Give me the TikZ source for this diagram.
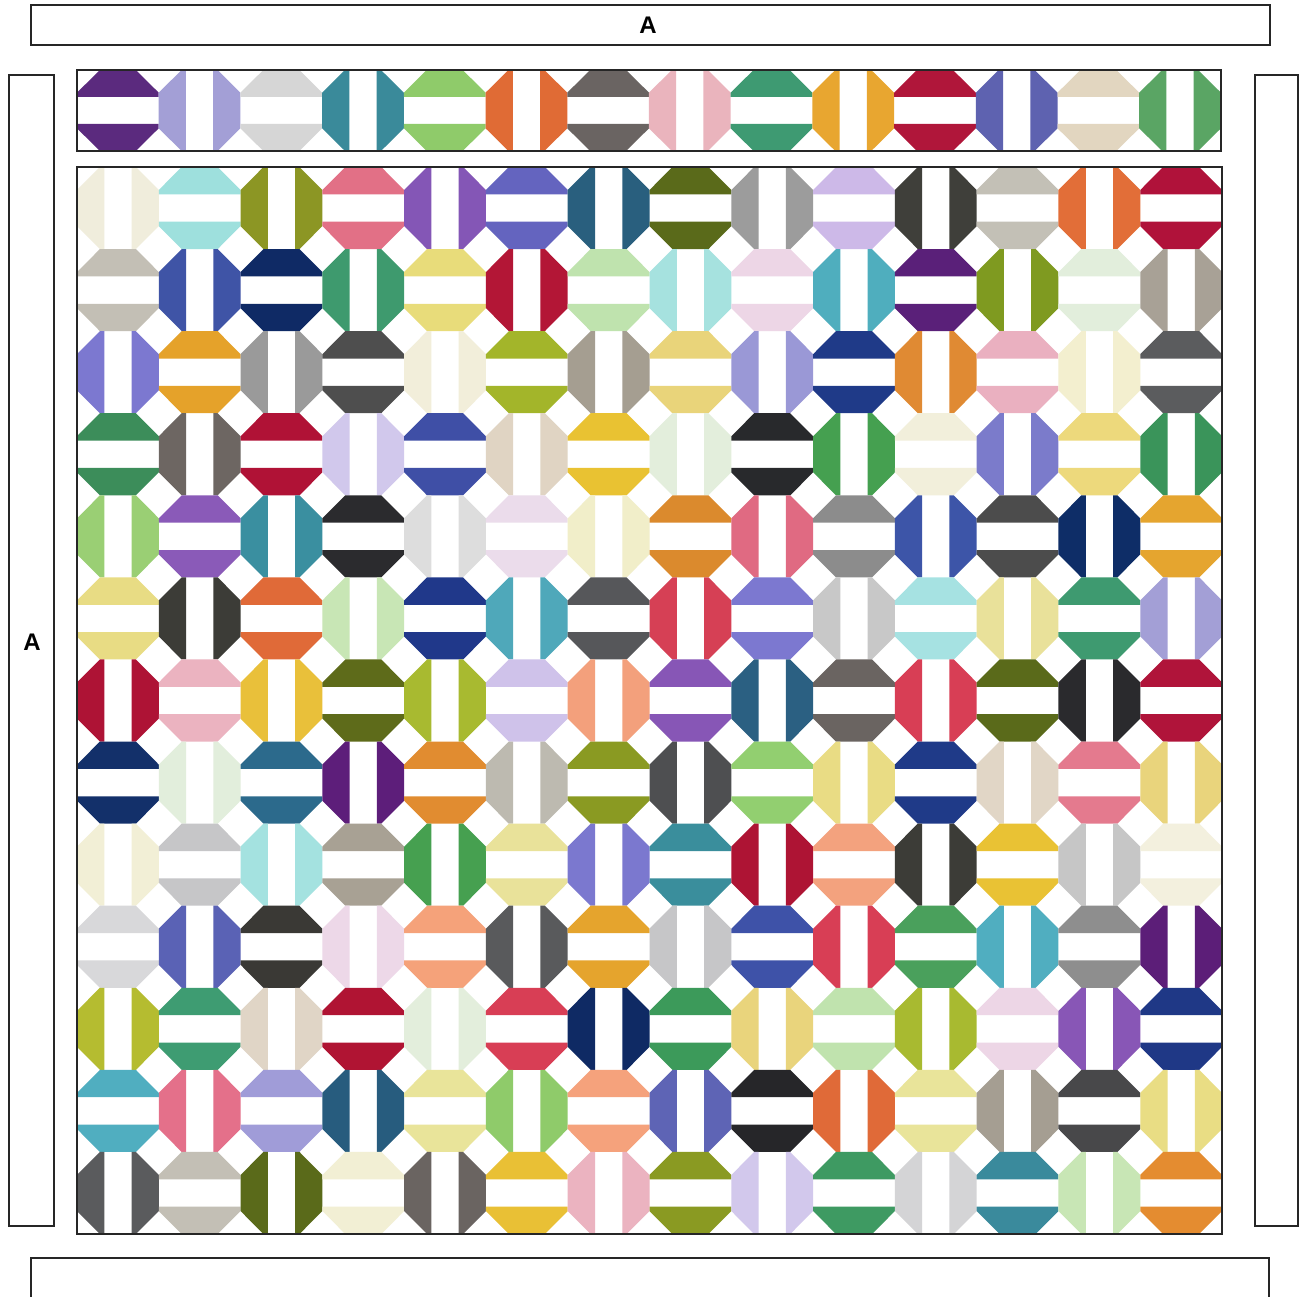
\documentclass[tikz,border=0pt]{standalone}
\usepackage{fontspec}
\setmainfont{Liberation Sans}
\newcommand\qhb{%
 \fill[bc] (0.28,0)--(0.72,0)--(1,0.28)--(1,1/3)--(0,1/3)--(0,0.28)--cycle;
 \fill[bc] (0,2/3)--(1,2/3)--(1,0.72)--(0.72,1)--(0.28,1)--(0,0.72)--cycle;}
\newcommand\qvb{%
 \fill[bc] (0,0.28)--(0.28,0)--(1/3,0)--(1/3,1)--(0.28,1)--(0,0.72)--cycle;
 \fill[bc] (2/3,0)--(0.72,0)--(1,0.28)--(1,0.72)--(0.72,1)--(2/3,1)--cycle;}
\begin{document}
\begin{tikzpicture}[x=1pt,y=-1pt,
  strip/.style={draw=black!85,line width=1.4pt},
  quiltedge/.style={draw=black!85,line width=1.1pt},
  lab/.style={font=\bfseries\fontsize{24}{26}\selectfont,inner sep=0pt}]
\useasboundingbox (0,0) rectangle (1299,1297);
\fill[white] (0,0) rectangle (1299,1297);

% top single row of blocks
\foreach \hx [count=\i] in {5B2A7E,A39FD6,D6D6D6,3A8A9A,8FCB6A,E06B35,6A6462,EAB4BD,3E9A72,E8A630,B0163A,5E62B0,E2D6C0,5AA564}{
  \edef\tmpdef{\noexpand\definecolor{bc}{HTML}{\hx}}\tmpdef
  \begin{scope}[shift={({77+(\i-1)*81.71},70)},xscale=81.71,yscale=81]
    \pgfmathtruncatemacro\o{mod(\i,2)}
    \ifnum\o=0 \qvb \else \qhb \fi
  \end{scope}
}

% main quilt
\foreach \rowlist [count=\r] in {
{F0EDDC,9EE0DD,8C9624,E27086,8456B6,6464BF,295F7E,5A6A1A,9C9C9C,CDB9E8,3F3F3A,C3C0B6,E26E38,B0123A},
{C3BFB5,3F54A6,0F2A65,3E9A6E,E8DC7A,B31636,BFE3AE,A6E2DF,EDD6E6,4FAEBE,5A2079,7F9A20,E2EEDC,A8A196},
{7C78D0,E5A22A,9A9A9A,4E4E4E,F2EEDA,A3B52A,A59E91,E9D47A,9A98D6,1F3A88,E08A33,EAB0C0,F3EFCF,5B5C5E},
{3C8D5A,6D6662,B01236,D1C8EC,3F4FA6,E0D4C3,E9C232,E3EEDC,28292C,45A050,F2EFDB,7B7BCB,EDD97C,3A945A},
{9ACF74,8A5AB8,3A8FA0,2B2B2E,DDDDDD,EBDCEB,F1EEC9,DB8A2D,E06A82,8C8C8C,3D55A8,4C4C4C,0E2D67,E5A52F},
{E8DC84,3C3C37,E06A38,C8E6B5,20388A,4FA8BA,56575A,D64055,7C78D0,C8C8C8,A6E2E2,E9E19A,3E9A70,A39FD6},
{AE1335,EBB3C0,E9C03A,5E6B1A,A8BA30,CFC2EA,F3A07C,8756B6,2B6082,6A6461,D83E55,5A6A1A,2A2A2D,B0143A},
{13306A,E2EEDC,2C6A8C,5D1E7A,E18C30,BDBAB0,8A9A22,4E4F51,92CF70,E9DC84,1F3A88,E1D6C6,E47A8E,E9D47C},
{F2EFD6,C6C6C8,A4E2E0,A8A194,46A050,E9E29A,7B78CF,3A8E9C,AE1434,F3A27E,3C3C37,E9C234,C6C6C6,F3F0DE},
{D8D8DA,5A62B5,3A3935,EDD8E8,F5A27A,595A5C,E5A42D,C6C6C8,3E52A8,D83E55,4AA05C,50AEC0,8E8E8E,5C1E78},
{B5BC30,3E9C72,E0D5C6,B01433,E3EEDC,D83E55,0F2A64,3C9A5A,E9D47C,C0E3AE,A8BA30,EDD6E6,8856B6,1F3886},
{50AEC0,E4708A,A09CD8,275C7E,E9E49A,8FCB6A,F5A27C,5E64B5,262629,E06A38,E9E49A,A59E92,48484A,E9DD84},
{5A5B5D,C3BFB5,5A6A1A,F2EFD4,6A6461,E9C035,EBB3C0,8A9A22,D2C8EC,3E9A62,D4D4D6,3A8A9C,C8E6B5,E48C30}}{
  \foreach \hx [count=\i] in \rowlist {
    \edef\tmpdef{\noexpand\definecolor{bc}{HTML}{\hx}}\tmpdef
    \begin{scope}[shift={({77+(\i-1)*81.79},{167+(\r-1)*82.08})},xscale=81.79,yscale=82.08]
      \pgfmathtruncatemacro\o{mod(\r+\i,2)}
      \ifnum\o=0 \qvb \else \qhb \fi
    \end{scope}
  }
}

% outlines of block areas
\draw[quiltedge] (77,70) rectangle (1221,151);
\draw[quiltedge] (77,167) rectangle (1222,1234);

% border strips
\draw[strip] (31,5) rectangle (1270,45);
\node[lab] (topA) at (648,25) {A};
\draw[strip] (9,75) rectangle (54,1226);
\node[lab] (leftA) at (32,642) {A};
\draw[strip] (1255,75) rectangle (1298,1226);
\draw[strip] (31,1305) -- (31,1258) -- (1269,1258) -- (1269,1305);
\end{tikzpicture}
\end{document}
